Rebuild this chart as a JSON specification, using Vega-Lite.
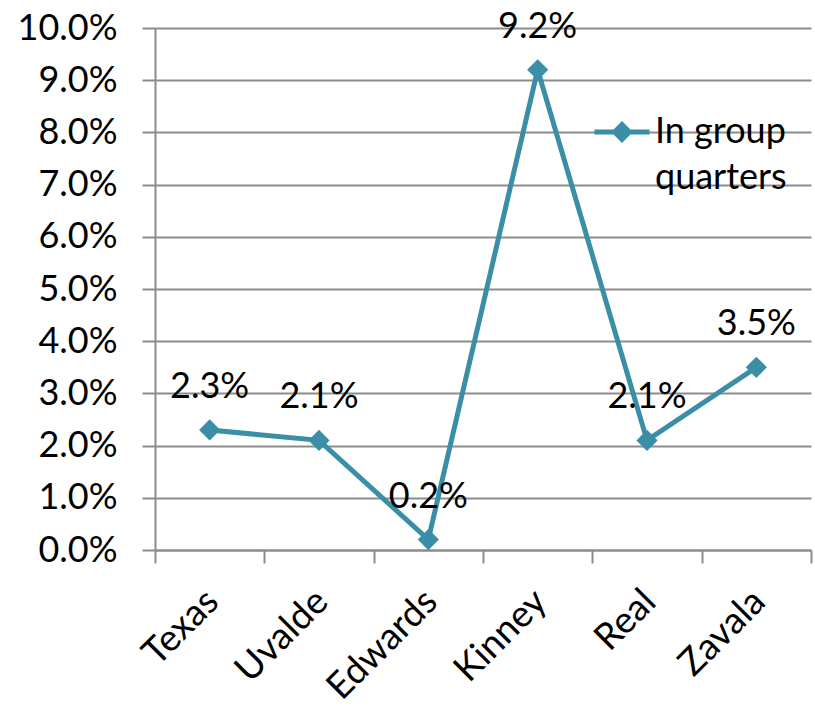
{
  "$schema": "https://vega.github.io/schema/vega-lite/v6.json",
  "width": 656,
  "height": 522,
  "autosize": {"type": "none"},
  "padding": {"left": 155, "top": 28, "right": 4, "bottom": 157},
  "background": "white",
  "data": {
    "values": [
      {"county": "Texas", "share": 0.023, "series": "In group quarters"},
      {"county": "Uvalde", "share": 0.021, "series": "In group quarters"},
      {"county": "Edwards", "share": 0.002, "series": "In group quarters"},
      {"county": "Kinney", "share": 0.092, "series": "In group quarters"},
      {"county": "Real", "share": 0.021, "series": "In group quarters"},
      {"county": "Zavala", "share": 0.035, "series": "In group quarters"}
    ]
  },
  "encoding": {
    "x": {
      "field": "county",
      "type": "nominal",
      "sort": null,
      "scale": {"type": "band", "paddingInner": 0, "paddingOuter": 0},
      "axis": {
        "title": null,
        "labelAngle": -45,
        "labelFontSize": 37,
        "labelFont": "Lato",
        "labelColor": "black",
        "labelPadding": 20,
        "labelOffset": -10,
        "tickBand": "extent",
        "tickSize": 13,
        "tickColor": "#8c8c8c",
        "tickWidth": 2,
        "domainColor": "#8c8c8c",
        "domainWidth": 2,
        "grid": false
      }
    },
    "y": {
      "field": "share",
      "type": "quantitative",
      "scale": {"domain": [0, 0.1], "nice": false},
      "axis": {
        "title": null,
        "format": ".1%",
        "values": [0, 0.01, 0.02, 0.03, 0.04, 0.05, 0.06, 0.07, 0.08, 0.09, 0.1],
        "labelFontSize": 36,
        "labelFont": "Lato",
        "labelColor": "black",
        "labelPadding": 25,
        "tickSize": 13,
        "tickColor": "#8c8c8c",
        "tickWidth": 2,
        "domainColor": "#8c8c8c",
        "domainWidth": 2,
        "grid": true,
        "gridColor": "#8c8c8c",
        "gridWidth": 2
      }
    }
  },
  "layer": [
    {
      "mark": {"type": "line", "strokeWidth": 5},
      "encoding": {
        "color": {
          "field": "series",
          "type": "nominal",
          "scale": {"range": ["#3a8ea6"]},
          "legend": {
            "title": null,
            "orient": "none",
            "legendX": 437,
            "legendY": 74,
            "padding": 0,
            "symbolType": "M-1,0L1,0M-0.27,0L0,-0.27L0.27,0L0,0.27Z",
            "symbolSize": 3025,
            "symbolStrokeWidth": 5,
            "symbolStrokeColor": "#3a8ea6",
            "symbolFillColor": "#3a8ea6",
            "labelFontSize": 36,
            "labelFont": "Lato",
            "labelColor": "black",
            "labelOffset": 3,
            "labelLimit": 0,
            "labelExpr": "['In group', 'quarters']",
            "encode": {
              "labels": {"update": {"lineHeight": {"value": 46}}}
            }
          }
        }
      }
    },
    {
      "mark": {"type": "point", "shape": "diamond", "filled": true, "size": 450, "opacity": 1, "color": "#3a8ea6"}
    },
    {
      "mark": {"type": "text", "dy": -43, "fontSize": 36, "font": "Lato", "color": "black"},
      "encoding": {"text": {"field": "share", "format": ".1%"}}
    }
  ],
  "config": {"view": {"stroke": null}}
}
